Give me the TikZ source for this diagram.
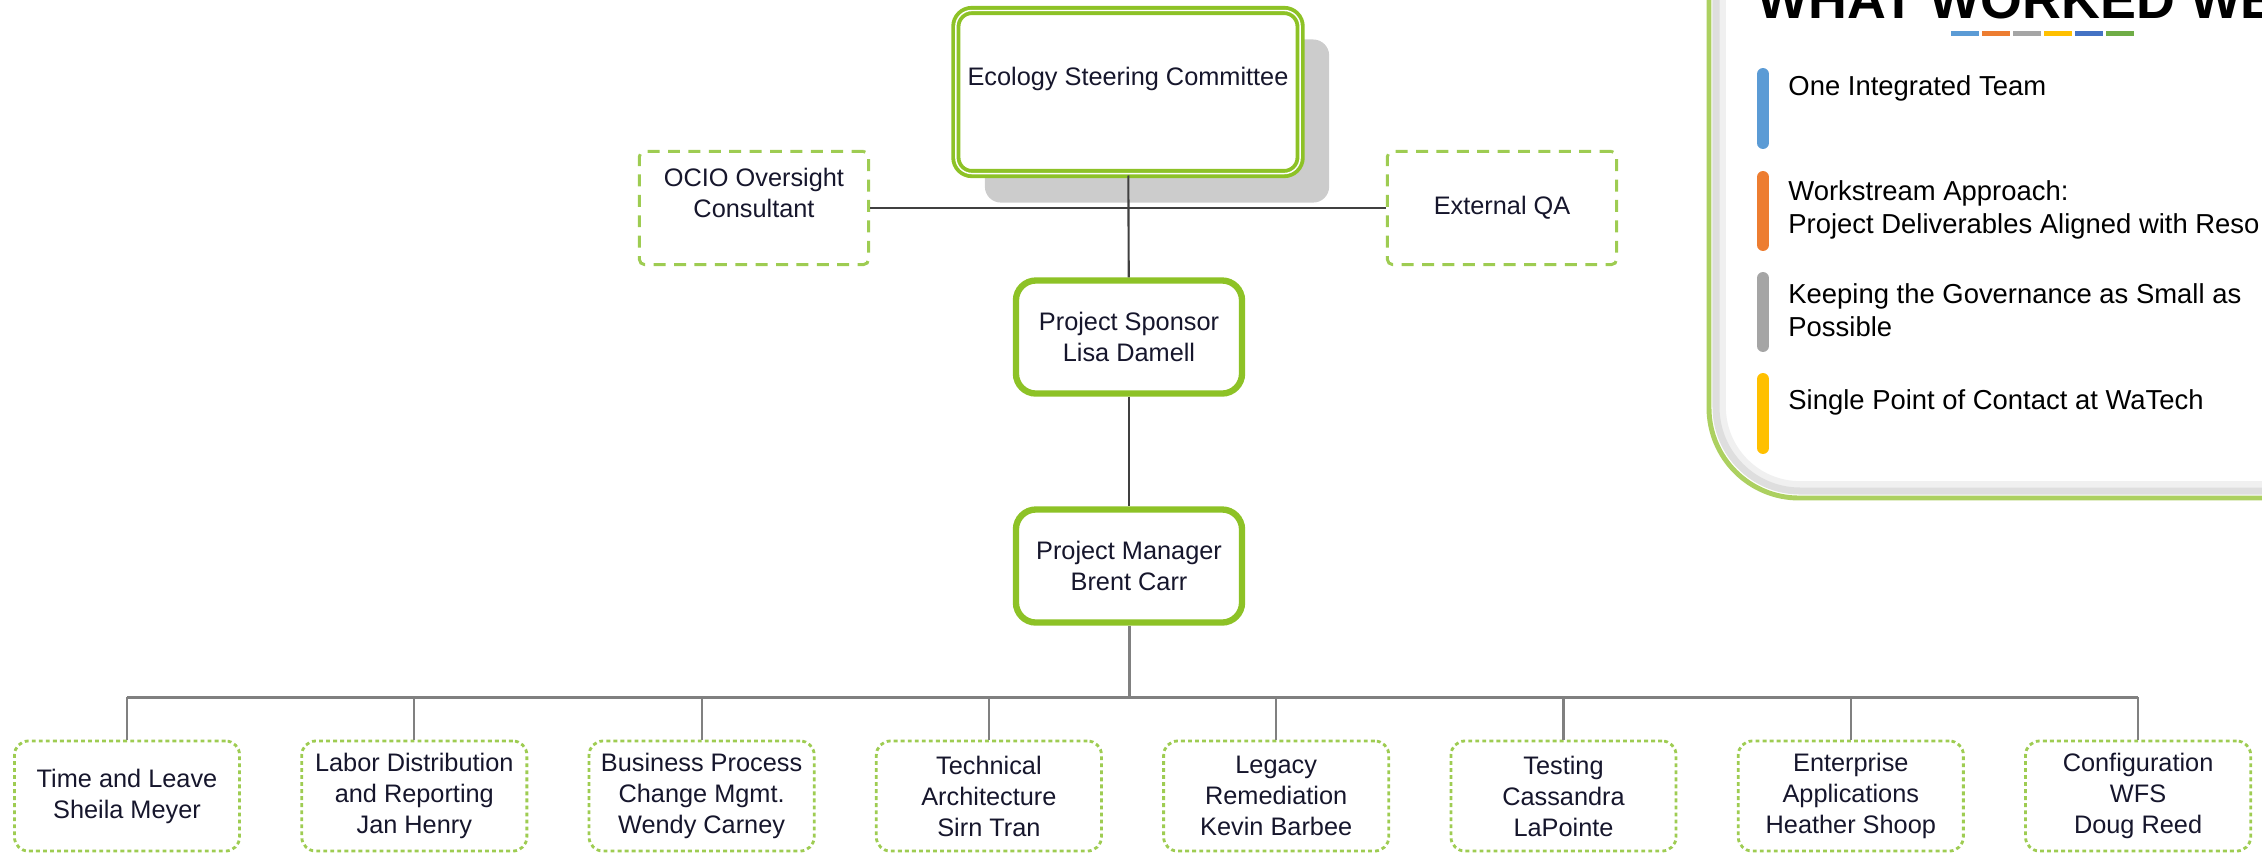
\documentclass[tikz,border=0pt]{standalone}
\usepackage{fontspec}
\setmainfont{Liberation Sans}
\usetikzlibrary{positioning,shadows}
\definecolor{ecgreen}{RGB}{141,194,38}
\definecolor{eclight}{RGB}{158,204,82}
\definecolor{panelgreen}{RGB}{172,208,96}
\definecolor{inkblue}{RGB}{22,22,44}
\definecolor{barblue}{RGB}{91,155,213}
\definecolor{barorange}{RGB}{237,125,49}
\definecolor{bargray}{RGB}{165,165,165}
\definecolor{baryellow}{RGB}{255,192,0}
\definecolor{bardblue}{RGB}{68,114,196}
\definecolor{bargreen}{RGB}{112,173,71}

\begin{document}
\begin{tikzpicture}[x=0.01cm, y=-0.01cm,
  font=\fontsize{7.2}{8.8}\selectfont, text=inkblue,
  steerbox/.style={draw=ecgreen, line width=1.1pt, double=white, double distance=0.4pt,
    rounded corners=0.16cm, fill=white, minimum width=3.38cm, minimum height=1.63cm,
    align=center, general shadow={fill=black!20, shadow xshift=0.29cm, shadow yshift=-0.29cm}},
  leadbox/.style={draw=ecgreen, line width=1.8pt, rounded corners=0.2cm, fill=white,
    minimum width=2.26cm, minimum height=1.13cm, align=center},
  advbox/.style={draw=eclight, line width=0.85pt, dash pattern=on 3.4pt off 2.4pt,
    rounded corners=0.05cm, minimum width=2.29cm, minimum height=1.13cm, align=center},
  streambox/.style={draw=eclight, line width=0.8pt, dash pattern=on 1.1pt off 0.9pt,
    rounded corners=0.14cm, minimum width=2.25cm, minimum height=1.1cm, align=center},
  topline/.style={draw=black!75, line width=0.6pt},
  busline/.style={draw=black!50, line width=0.85pt},
  dropline/.style={draw=black!50, line width=0.6pt},
  panelitem/.style={anchor=west, align=left, text=black,
    font=\fontsize{7.8}{9.3}\selectfont}
]
\useasboundingbox (0,0) rectangle (2262,856);

% governance chain
\node[steerbox] (esc) at (1128,92) {Ecology Steering Committee\\~};
\node[advbox] (ocio) at (754,208) {OCIO Oversight\\Consultant\\~};
\node[advbox] (qa) at (1502,208) {External QA};
\node[leadbox] (spon) at (1129,337) {Project Sponsor\\Lisa Damell};
\node[leadbox] (mgr) at (1129,566) {Project Manager\\Brent Carr};
\draw[topline] (ocio) -- (qa);
\draw[topline] (esc) -- (spon);
\draw[topline] (spon) -- (mgr);

% workstreams
\foreach \i/\txt in {1/{Time and Leave\\Sheila Meyer},
    2/{Labor Distribution\\and Reporting\\Jan Henry},
    3/{Business Process\\Change Mgmt.\\Wendy Carney},
    4/{Technical\\Architecture\\Sirn Tran},
    5/{Legacy\\Remediation\\Kevin Barbee},
    6/{Testing\\Cassandra\\LaPointe},
    7/{Enterprise\\Applications\\Heather Shoop},
    8/{Configuration\\WFS\\Doug Reed}} {
  \node[streambox] (ws\i) at ({127+287.3*(\i-1)},796) {\txt};
}
\coordinate (bus) at (1129,697);
\draw[busline] (mgr) -- (bus);
\draw[busline] (ws1.north |- bus) -- (ws8.north |- bus);
\foreach \i in {1,...,8}
  \draw[dropline] (ws\i) -- (ws\i.north |- bus);

% side panel, cut by the page edge
\begin{scope}
\clip (0,0) rectangle (2262,856);
\fill[white, rounded corners=0.9cm] (1709,-60) -- (1709,498) -- (2330,498) -- (2330,-60) -- cycle;
\draw[black!6, line width=2.2pt, rounded corners=0.78cm] (1722,-60) -- (1722,485) -- (2330,485);
\draw[black!13, line width=2pt, rounded corners=0.84cm] (1716,-60) -- (1716,491) -- (2330,491);
\draw[panelgreen, line width=1.4pt, rounded corners=0.9cm] (1709,-60) -- (1709,498) -- (2330,498);
\node[anchor=base west, inner sep=0pt, text=black, font=\fontsize{15.3}{17}\selectfont\bfseries]
  (ttl) at (1757,18) {WHAT WORKED WE};
\foreach \c [count=\i] in {barblue,barorange,bargray,baryellow,bardblue,bargreen}
  \fill[\c] ({1951+31*(\i-1)},31) rectangle ++(28,5);
% key points
\foreach \c/\ya/\yb/\ym/\txt in {barblue/68/149/88/{One Integrated Team},
    barorange/171/251/210/{Workstream Approach:\\Project Deliverables Aligned with Reso},
    bargray/272/352/310/{Keeping the Governance as Small as\\Possible},
    baryellow/373/454/402/{Single Point of Contact at WaTech}} {
  \draw[\c, line width=3.4pt, line cap=round] (1763,\ya+6) -- (1763,\yb-6);
  \node[panelitem] at (1776,\ym) {\txt};
}
\end{scope}
\end{tikzpicture}
\end{document}
